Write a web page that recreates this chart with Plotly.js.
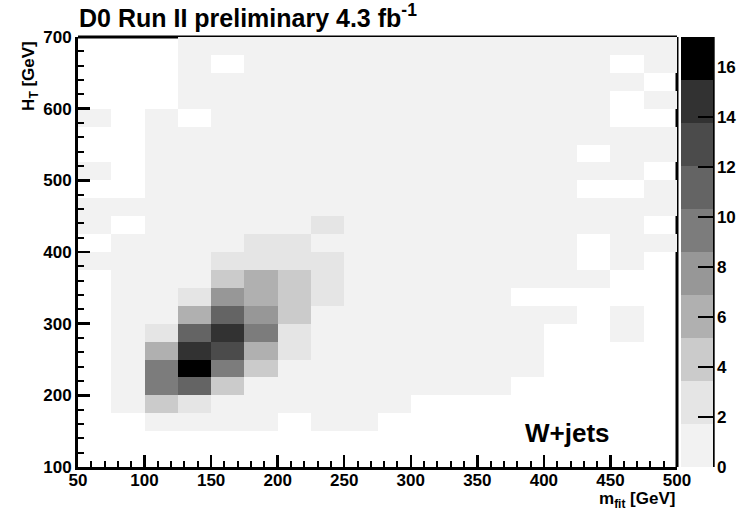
<!DOCTYPE html>
<html>
<head>
<meta charset="utf-8">
<script src="https://cdn.plot.ly/plotly-3.0.1.min.js"></script>
<style>
  html, body { margin: 0; padding: 0; background: #ffffff; }
  #plot { width: 747px; height: 513px; }
</style>
</head>
<body>
<div id="plot"></div>
<script>
// Bin centres of the 2D histogram (25 GeV bins)
const mfitCenters = [62.5, 87.5, 112.5, 137.5, 162.5, 187.5, 212.5, 237.5, 262.5,
                     287.5, 312.5, 337.5, 362.5, 387.5, 412.5, 437.5, 462.5, 487.5];
// H_T bin centres, listed from the top row (700 GeV) down to the bottom row (100 GeV)
const htCenters = [687.5, 662.5, 637.5, 612.5, 587.5, 562.5, 537.5, 512.5,
                   487.5, 462.5, 437.5, 412.5, 387.5, 362.5, 337.5, 312.5,
                   287.5, 262.5, 237.5, 212.5, 187.5, 162.5, 137.5, 112.5];

// Event counts per bin, one row per H_T bin (top to bottom), 0 = empty bin
const row675 = [0, 0, 0, 0.4, 0.3, 0.4, 0.3, 0.3, 0.4, 0.3, 0.3, 0.4, 0.3, 0.3, 0.3, 0.4, 0.3, 0.3];
const row650 = [0, 0, 0, 0.5, 0, 0.4, 0.4, 0.3, 0.3, 0.4, 0.3, 0.3, 0.4, 0.3, 0.3, 0.3, 0, 0.3];
const row625 = [0, 0, 0, 0.4, 0.5, 0.5, 0.4, 0.4, 0.3, 0.4, 0.4, 0.3, 0.3, 0.4, 0.3, 0.3, 0.3, 0];
const row600 = [0, 0, 0, 0.5, 0.6, 0.5, 0.5, 0.4, 0.4, 0.4, 0.3, 0.4, 0.3, 0.3, 0.4, 0.3, 0, 0.3];
const row575 = [0.3, 0, 0.4, 0, 0.6, 0.6, 0.5, 0.5, 0.4, 0.4, 0.4, 0.3, 0.4, 0.3, 0.3, 0.3, 0, 0];
const row550 = [0, 0, 0.5, 0.6, 0.7, 0.6, 0.6, 0.5, 0.5, 0.4, 0.4, 0.4, 0.3, 0.4, 0.3, 0.3, 0.3, 0.3];
const row525 = [0, 0, 0.5, 0.7, 0.8, 0.7, 0.6, 0.6, 0.5, 0.5, 0.4, 0.4, 0.4, 0.3, 0.3, 0, 0.3, 0.3];
const row500 = [0.3, 0, 0.6, 0.8, 0.9, 0.8, 0.7, 0.6, 0.6, 0.5, 0.5, 0.4, 0.4, 0.4, 0.3, 0.3, 0.3, 0];
const row475 = [0, 0, 0.7, 0.9, 1.0, 0.9, 0.8, 0.7, 0.6, 0.6, 0.5, 0.5, 0.4, 0.4, 0.3, 0, 0, 0.3];
const row450 = [0.3, 0.4, 0.8, 1.0, 1.2, 1.1, 1.0, 0.9, 0.7, 0.6, 0.6, 0.5, 0.5, 0.4, 0.4, 0.3, 0.3, 0.3];
const row425 = [0.3, 0, 0.9, 1.1, 1.4, 1.4, 1.3, 1.9, 0.9, 0.8, 0.7, 0.6, 0.5, 0.5, 0.4, 0.3, 0.3, 0];
const row400 = [0, 0.5, 1.0, 1.3, 1.6, 2.2, 2.0, 1.5, 1.1, 0.9, 0.8, 0.7, 0.6, 0.5, 0.4, 0, 0.3, 0.3];
const row375 = [0.3, 0.6, 1.1, 1.5, 2.9, 3.2, 2.7, 2.1, 1.2, 1.0, 0.9, 0.7, 0.6, 0.5, 0.4, 0, 0.3, 0];
const row350 = [0, 0.6, 1.2, 1.6, 4.5, 6.1, 4.4, 2.5, 1.3, 1.1, 0.9, 0.8, 0.7, 0.5, 0.4, 0.3, 0, 0];
const row325 = [0, 0.7, 1.4, 2.8, 7.8, 6.0, 4.6, 2.3, 1.4, 1.1, 1.0, 0.8, 0.6, 0, 0, 0, 0, 0];
const row300 = [0, 0.8, 1.5, 6.2, 11.1, 7.7, 4.3, 1.6, 1.3, 1.1, 0.9, 0.8, 0.6, 0.5, 0.4, 0, 0.3, 0];
const row275 = [0, 0.9, 2.6, 11.3, 14.6, 9.5, 2.4, 1.5, 1.2, 1.0, 0.9, 0.7, 0.6, 0.4, 0, 0, 0.3, 0];
const row250 = [0, 1.0, 6.1, 14.5, 12.9, 6.0, 2.2, 1.4, 1.1, 0.9, 0.8, 0.6, 0.5, 0.4, 0, 0, 0, 0];
const row225 = [0, 1.1, 9.4, 16.5, 9.5, 4.3, 1.6, 1.3, 1.0, 0.8, 0.7, 0.6, 0.4, 0.3, 0, 0, 0, 0];
const row200 = [0, 1.0, 9.5, 11.2, 4.4, 1.6, 1.3, 1.0, 0.8, 0.7, 0.5, 0.4, 0.3, 0, 0, 0, 0, 0];
const row175 = [0, 0.8, 4.2, 2.7, 1.5, 1.2, 0.9, 0.7, 0.5, 0.4, 0, 0, 0, 0, 0, 0, 0, 0];
const row150 = [0, 0, 1.0, 1.3, 1.1, 0.8, 0, 0.5, 0.4, 0, 0, 0, 0, 0, 0, 0, 0, 0];
const row125 = [0, 0, 0, 0, 0, 0, 0, 0, 0, 0, 0, 0, 0, 0, 0, 0, 0, 0];
const row100 = [0, 0, 0, 0, 0, 0, 0, 0, 0, 0, 0, 0, 0, 0, 0, 0, 0, 0];

const zRows = [row675, row650, row625, row600, row575, row550, row525, row500,
               row475, row450, row425, row400, row375, row350, row325, row300,
               row275, row250, row225, row200, row175, row150, row125, row100];

// Colour-bar scale: 0 .. zMax split into ten grey contour bands
const zMax = 17.2;
const bandColors = ['#f2f2f2', '#e5e5e5', '#cbcbcb', '#b0b0b0', '#979797',
                    '#7c7c7c', '#646464', '#4b4b4b', '#323232', '#000000'];
const colorTicks = [0, 2, 4, 6, 8, 10, 12, 14, 16];

// Stepped colour scale built from the band colours
const colorscale = [];
bandColors.forEach((c, i) => {
  colorscale.push([i / bandColors.length, c]);
  colorscale.push([(i + 1) / bandColors.length, c]);
});

// Empty bins are not painted
const zDrawn = zRows.map(r => r.map(v => (v > 0 ? v : null)));

const fam = 'Liberation Sans, Arial, sans-serif';
const boldFont = { family: fam, size: 17, color: '#000', weight: 700 };

const trace = {
  type: 'heatmap',
  x: mfitCenters,
  y: htCenters,
  z: zDrawn,
  zmin: 0,
  zmax: zMax,
  zsmooth: false,
  colorscale: colorscale,
  hoverinfo: 'skip',
  colorbar: {
    x: 1.007, xanchor: 'left', xpad: 0,
    y: 0.5, yanchor: 'middle', ypad: 0,
    len: 1, lenmode: 'fraction',
    thickness: 32, thicknessmode: 'pixels',
    outlinewidth: 0,
    tickmode: 'array', tickvals: colorTicks, ticktext: colorTicks.map(String),
    ticks: 'inside', ticklen: 15, tickwidth: 2.5, tickcolor: '#000',
    tickfont: boldFont
  }
};

const layout = {
  width: 747, height: 513,
  margin: { l: 77.5, r: 69.5, t: 36.7, b: 46.3, pad: 0, autoexpand: false },
  paper_bgcolor: '#ffffff',
  plot_bgcolor: '#ffffff',
  showlegend: false,
  title: {
    text: 'D0 Run II preliminary 4.3 fb<sup>-1</sup>',
    font: { family: fam, size: 25, color: '#000', weight: 700 },
    xref: 'container', x: 79 / 747, xanchor: 'left',
    yref: 'container', y: 1 - 18 / 513, yanchor: 'middle'
  },
  xaxis: {
    range: [50, 500], tickmode: 'linear', tick0: 50, dtick: 50,
    ticks: 'inside', ticklen: 12, tickwidth: 2.5, tickcolor: '#000',
    ticklabelstandoff: -4,
    minor: { dtick: 10, tick0: 50, ticks: 'inside', ticklen: 6, tickwidth: 2, tickcolor: '#000', showgrid: false },
    showline: true, linewidth: 3, linecolor: '#000',
    showgrid: false, zeroline: false, tickfont: boldFont, fixedrange: true
  },
  yaxis: {
    range: [100, 700], tickmode: 'linear', tick0: 100, dtick: 100,
    ticks: 'inside', ticklen: 12, tickwidth: 2.5, tickcolor: '#000',
    minor: { dtick: 20, tick0: 100, ticks: 'inside', ticklen: 6, tickwidth: 2, tickcolor: '#000', showgrid: false },
    showline: true, linewidth: 3, linecolor: '#000',
    showgrid: false, zeroline: false, tickfont: boldFont, fixedrange: true
  },
  shapes: [
    // upper and right frame, drawn beneath the filled bins
    { type: 'line', xref: 'paper', yref: 'paper', x0: 0, x1: 1, y0: 1, y1: 1,
      line: { color: '#000', width: 3 }, layer: 'below' },
    { type: 'line', xref: 'paper', yref: 'paper', x0: 1, x1: 1, y0: 0, y1: 1,
      line: { color: '#000', width: 3 }, layer: 'below' },
    // colour-bar axis line
    { type: 'line', xref: 'paper', yref: 'paper', x0: (714 - 77.5) / 600, x1: (714 - 77.5) / 600, y0: 0, y1: 1,
      line: { color: '#000', width: 2.5 }, layer: 'above' }
  ],
  annotations: [
    { text: 'H<sub>T</sub> [GeV]', textangle: -90, showarrow: false,
      xref: 'paper', yref: 'paper', x: (30 - 77.5) / 600, y: (466.7 - 76) / 430,
      xanchor: 'center', yanchor: 'middle', font: boldFont },
    { text: 'm<sub>fit</sub> [GeV]', showarrow: false,
      xref: 'paper', yref: 'paper', x: 1, y: (466.7 - 500) / 430,
      xanchor: 'right', yanchor: 'middle', font: boldFont },
    { text: 'W+jets', showarrow: false,
      xref: 'paper', yref: 'paper', x: (568 - 77.5) / 600, y: (466.7 - 433) / 430,
      xanchor: 'center', yanchor: 'middle',
      font: { family: fam, size: 26, color: '#000', weight: 700 } }
  ]
};

Plotly.newPlot('plot', [trace], layout, { displayModeBar: false, staticPlot: true });
</script>
</body>
</html>
